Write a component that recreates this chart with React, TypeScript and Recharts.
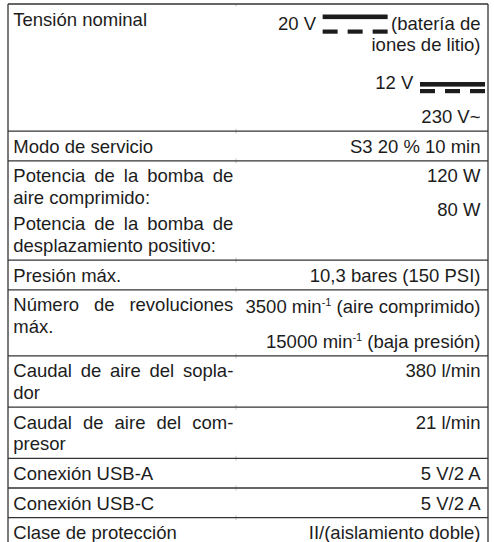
import React from "react";
import { ReferenceLine, Scatter, ScatterChart, XAxis, YAxis } from "recharts";

// Columna izquierda: párrafos por fila, "\n" marca el salto de línea
const parameterNames: string[][] = [
  ["Tensión nominal"],
  ["Modo de servicio"],
  [
    "Potencia de la bomba de\naire comprimido:",
    "Potencia de la bomba de\ndesplazamiento positivo:",
  ],
  ["Presión máx."],
  ["Número de revoluciones\nmáx."],
  ["Caudal de aire del sopla-\ndor"],
  ["Caudal de aire del com-\npresor"],
  ["Conexión USB-A"],
  ["Conexión USB-C"],
  ["Clase de protección"],
];

// Columna derecha: ⎓ = símbolo de corriente continua, ^{...} = superíndice
const parameterValues: string[][] = [
  ["20 V ⎓ (batería de\niones de litio)", "12 V ⎓", "230 V~"],
  ["S3 20 % 10 min"],
  ["120 W", "80 W"],
  ["10,3 bares (150 PSI)"],
  ["3500 min^{-1} (aire comprimido)", "15000 min^{-1} (baja presión)"],
  ["380 l/min"],
  ["21 l/min"],
  ["5 V/2 A"],
  ["5 V/2 A"],
  ["II/(aislamiento doble)"],
];

const WIDTH = 494;
const HEIGHT = 542;
const MARGIN = { top: 4, right: 6, bottom: 0, left: 8 };
const FONT = '"Liberation Sans", Arial, sans-serif';
const FONT_SIZE = 18.5;
const TEXT_COLOR = "#1c1c1c";
const RULE_COLOR = "#333";

const LINE = 21.5;
const PAD = 4.1;
const GAP_LEFT = 5;
const GAP_RIGHT = 12.5;
const DC_EXTRA = 4;
const SUP_EXTRA = 1.2;
const TEXT_PAD_LEFT = 5.3;
const TEXT_PAD_RIGHT = 7.5;
const JUSTIFY_WIDTH = 220;
const COLUMN_SPLIT = 0.475; // fracción del ancho de la tabla
const Y_MAX = HEIGHT - MARGIN.top;

type TextLine = {
  x: number;
  y: number;
  text: string;
  side: "left" | "right";
  justify: boolean;
};

const extraFor = (t: string) =>
  t.includes("⎓") ? DC_EXTRA : t.includes("^{") ? SUP_EXTRA : 0;

function layoutCell(
  paras: string[],
  side: "left" | "right",
  top: number,
  gap: number,
  out: TextLine[]
) {
  let y = top + PAD;
  paras.forEach((p, pi) => {
    if (pi > 0) y += gap;
    const ls = p.split("\n");
    ls.forEach((t, li) => {
      const e = extraFor(t);
      out.push({
        x: side === "left" ? 0 : 1,
        y: y + e + LINE / 2,
        text: t,
        side,
        justify: side === "left" && li < ls.length - 1,
      });
      y += e + LINE;
    });
  });
  return y + PAD;
}

const textLines: TextLine[] = [];
const rowEdges: number[] = [0];
parameterNames.forEach((names, i) => {
  const top = rowEdges[i];
  const a = layoutCell(names, "left", top, GAP_LEFT, textLines);
  const b = layoutCell(parameterValues[i], "right", top, GAP_RIGHT, textLines);
  rowEdges.push(Math.max(a, b));
});
const visibleEdges = rowEdges.filter((y) => y < Y_MAX - 1);

const measureCtx =
  typeof document !== "undefined"
    ? document.createElement("canvas").getContext("2d")
    : null;

function measure(s: string, size = FONT_SIZE) {
  if (!measureCtx) return s.length * size * 0.5;
  measureCtx.font = `${size}px ${FONT}`;
  return measureCtx.measureText(s).width;
}

const DcSymbol = ({ x, baseline, tall }: { x: number; baseline: number; tall: boolean }) => {
  const w = 65;
  const dash = 15;
  const step = (w - dash) / 2;
  return (
    <g fill={TEXT_COLOR}>
      <rect x={x} y={baseline - (tall ? 15 : 7)} width={w} height={4.6} />
      {[0, 1, 2].map((k) => (
        <rect key={k} x={x + k * step} y={baseline} width={dash} height={4.2} />
      ))}
    </g>
  );
};

const CellText = (props: any) => {
  const { cx, cy, payload } = props;
  if (cx == null || cy == null || !payload) return <g />;
  const line = payload as TextLine;
  const baseline = cy + FONT_SIZE * 0.36;
  const common = {
    fontFamily: FONT,
    fontSize: FONT_SIZE,
    fill: TEXT_COLOR,
  };

  if (line.side === "left") {
    const x0 = cx + TEXT_PAD_LEFT;
    if (line.justify) {
      const words = line.text.split(" ");
      const widths = words.map((w) => measure(w));
      const total = widths.reduce((s, v) => s + v, 0);
      const space = words.length > 1 ? (JUSTIFY_WIDTH - total) / (words.length - 1) : 0;
      let x = x0;
      return (
        <text y={baseline} {...common}>
          {words.map((w, k) => {
            const el = (
              <tspan key={k} x={x}>
                {w}
              </tspan>
            );
            x += widths[k] + space;
            return el;
          })}
        </text>
      );
    }
    return (
      <text x={x0} y={baseline} {...common}>
        {line.text}
      </text>
    );
  }

  const end = cx - TEXT_PAD_RIGHT;

  if (line.text.includes("⎓")) {
    const [before, after] = line.text.split("⎓").map((s) => s.trim());
    const symW = 65;
    let symX: number;
    let afterEl = null;
    if (after) {
      const aw = measure(after);
      const ax = end - aw;
      symX = ax - 3.4 - symW;
      afterEl = (
        <text x={ax} y={baseline} {...common}>
          {after}
        </text>
      );
    } else {
      symX = end + 4.5 - symW;
    }
    return (
      <g>
        <text x={symX - 6.6} y={baseline} textAnchor="end" {...common}>
          {before}
        </text>
        <DcSymbol x={symX} baseline={baseline} tall={!!after} />
        {afterEl}
      </g>
    );
  }

  if (line.text.includes("^{")) {
    const parts = line.text.split(/\^\{([^}]*)\}/);
    return (
      <text x={end} y={baseline} textAnchor="end" xmlSpace="preserve" {...common}>
        {parts.map((p, k) =>
          k % 2 === 1 ? (
            <tspan key={k} dy={-7} fontSize={11}>
              {p}
            </tspan>
          ) : (
            <tspan key={k} dy={k > 0 ? 7 : 0}>
              {p}
            </tspan>
          )
        )}
      </text>
    );
  }

  return (
    <text x={end} y={baseline} textAnchor="end" {...common}>
      {line.text}
    </text>
  );
};

export default function App() {
  return (
    <div
      style={{
        position: "absolute",
        left: 0,
        top: 0,
        width: WIDTH,
        height: HEIGHT,
        background: "#fff",
      }}
    >
      <ScatterChart width={WIDTH} height={HEIGHT} margin={MARGIN}>
        <XAxis type="number" dataKey="x" domain={[0, 1]} allowDataOverflow hide />
        <YAxis
          type="number"
          dataKey="y"
          domain={[0, Y_MAX]}
          allowDataOverflow
          reversed
          hide
        />
        {/* marcas tenues de la división de columnas en cada raya */}
        {visibleEdges.map((y, i) => (
          <ReferenceLine
            key={`tick-${i}`}
            segment={[
              { x: COLUMN_SPLIT, y: Math.max(0, y - 2.5) },
              { x: COLUMN_SPLIT, y: y + 2.5 },
            ]}
            stroke="#c4c4c4"
            strokeWidth={1}
          />
        ))}
        {visibleEdges.map((y, i) => (
          <ReferenceLine
            key={`row-${i}`}
            y={y}
            stroke={RULE_COLOR}
            strokeWidth={1.3}
          />
        ))}
        <ReferenceLine x={0} stroke={RULE_COLOR} strokeWidth={1.3} />
        <ReferenceLine x={1} stroke={RULE_COLOR} strokeWidth={1.3} />
        <Scatter
          data={textLines}
          shape={(p: any) => <CellText {...p} />}
          isAnimationActive={false}
        />
      </ScatterChart>
    </div>
  );
}
